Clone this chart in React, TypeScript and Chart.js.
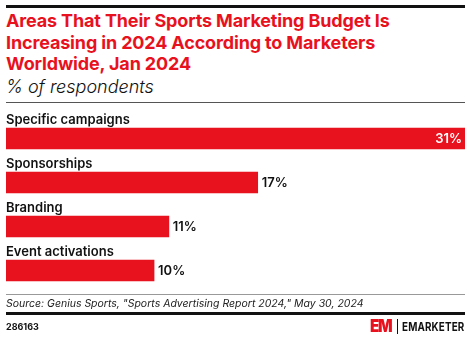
import React, { useEffect, useRef } from "react";
import { Chart, registerables } from "chart.js";

Chart.register(...registerables);

const categories = ["Specific campaigns", "Sponsorships", "Branding", "Event activations"];
const values = [31, 17, 11, 10];
const valueLabels = ["31%", "17%", "11%", "10%"];

const RED = "#e8111e";

const labelPlugin = {
  id: "barLabels",
  afterDatasetsDraw(chart: any) {
    const ctx = chart.ctx;
    const meta = chart.getDatasetMeta(0);
    const left = chart.chartArea.left;
    ctx.save();
    meta.data.forEach((bar: any, i: number) => {
      const y = bar.y;
      ctx.font = "600 13px Inter";
      ctx.textBaseline = "middle";
      ctx.fillStyle = "#111";
      ctx.textAlign = "left";
      ctx.fillText(categories[i], left, y - 18.5);
      if (i === 0) {
        ctx.fillStyle = "#fff";
        ctx.textAlign = "right";
        ctx.fillText(valueLabels[i], bar.x - 3, y + 0.5);
      } else {
        ctx.fillStyle = "#111";
        ctx.textAlign = "left";
        ctx.fillText(valueLabels[i], bar.x + 4, y + 0.5);
      }
    });
    ctx.restore();
  },
};

function BarChart() {
  const ref = useRef<HTMLCanvasElement>(null);
  useEffect(() => {
    if (!ref.current) return;
    const chart = new Chart(ref.current, {
      type: "bar",
      data: {
        labels: categories,
        datasets: [
          {
            data: values,
            backgroundColor: RED,
            borderWidth: 0,
            barThickness: 21,
            categoryPercentage: 1,
          },
        ],
      },
      options: {
        indexAxis: "y",
        animation: false,
        responsive: false,
        maintainAspectRatio: false,
        layout: { padding: { left: 6, right: 5, top: 116.5, bottom: 47.5 } },
        plugins: { legend: { display: false }, tooltip: { enabled: false } },
        scales: {
          x: { display: false, min: 0, max: 31 },
          y: { display: false },
        },
      },
      plugins: [labelPlugin],
    });
    return () => chart.destroy();
  }, []);
  return (
    <canvas
      ref={ref}
      width={470}
      height={340}
      style={{ position: "absolute", left: 0, top: 0, width: 470, height: 340 }}
    />
  );
}

export default function App() {
  return (
    <div
      style={{
        position: "fixed",
        left: 0,
        top: 0,
        width: 470,
        height: 340,
        background: "#fff",
        fontFamily: "Inter, sans-serif",
        overflow: "hidden",
      }}
    >
      <div style={{ position: "absolute", left: 6, top: 5, width: 459, height: 3, background: "#111" }} />
      <div
        style={{
          position: "absolute",
          left: 6,
          top: 10,
          width: 460,
          color: RED,
          fontWeight: 700,
          fontSize: 18,
          lineHeight: "21.7px",
          letterSpacing: "-0.15px",
        }}
      >
        Areas That Their Sports Marketing Budget Is
        <br />
        Increasing in 2024 According to Marketers
        <br />
        Worldwide, Jan 2024
      </div>
      <div
        style={{
          position: "absolute",
          left: 6,
          top: 77,
          color: "#111",
          fontStyle: "italic",
          fontWeight: 300,
          fontSize: 18,
          lineHeight: "20px",
        }}
      >
        % of respondents
      </div>
      <div style={{ position: "absolute", left: 6, top: 102, width: 459, height: 1, background: "#555" }} />
      <BarChart />
      <div style={{ position: "absolute", left: 6, top: 294, width: 459, height: 1, background: "#999" }} />
      <div
        style={{
          position: "absolute",
          left: 6,
          top: 297,
          color: "#222",
          fontStyle: "italic",
          fontSize: 10.5,
          lineHeight: "14px",
        }}
      >
        Source: Genius Sports, "Sports Advertising Report 2024," May 30, 2024
      </div>
      <div style={{ position: "absolute", left: 6, top: 312, width: 459, height: 3, background: "#111" }} />
      <div
        style={{
          position: "absolute",
          left: 6,
          top: 321,
          color: "#111",
          fontWeight: 700,
          fontSize: 9,
          lineHeight: "12px",
        }}
      >
        286163
      </div>
      <div
        style={{
          position: "absolute",
          left: 370,
          top: 317,
          color: RED,
          fontWeight: 900,
          fontSize: 18,
          lineHeight: "18px",
          letterSpacing: "-1.5px",
          transform: "scaleX(0.85)",
          transformOrigin: "left center",
        }}
      >
        EM
      </div>
      <div style={{ position: "absolute", left: 397, top: 319, width: 1, height: 15, background: "#111" }} />
      <div
        style={{
          position: "absolute",
          left: 402,
          top: 320,
          color: "#111",
          fontWeight: 700,
          fontSize: 12,
          lineHeight: "13px",
          letterSpacing: "0.2px",
          transform: "scaleX(0.82)",
          transformOrigin: "left center",
          whiteSpace: "nowrap",
        }}
      >
        EMARKETER
      </div>
    </div>
  );
}
